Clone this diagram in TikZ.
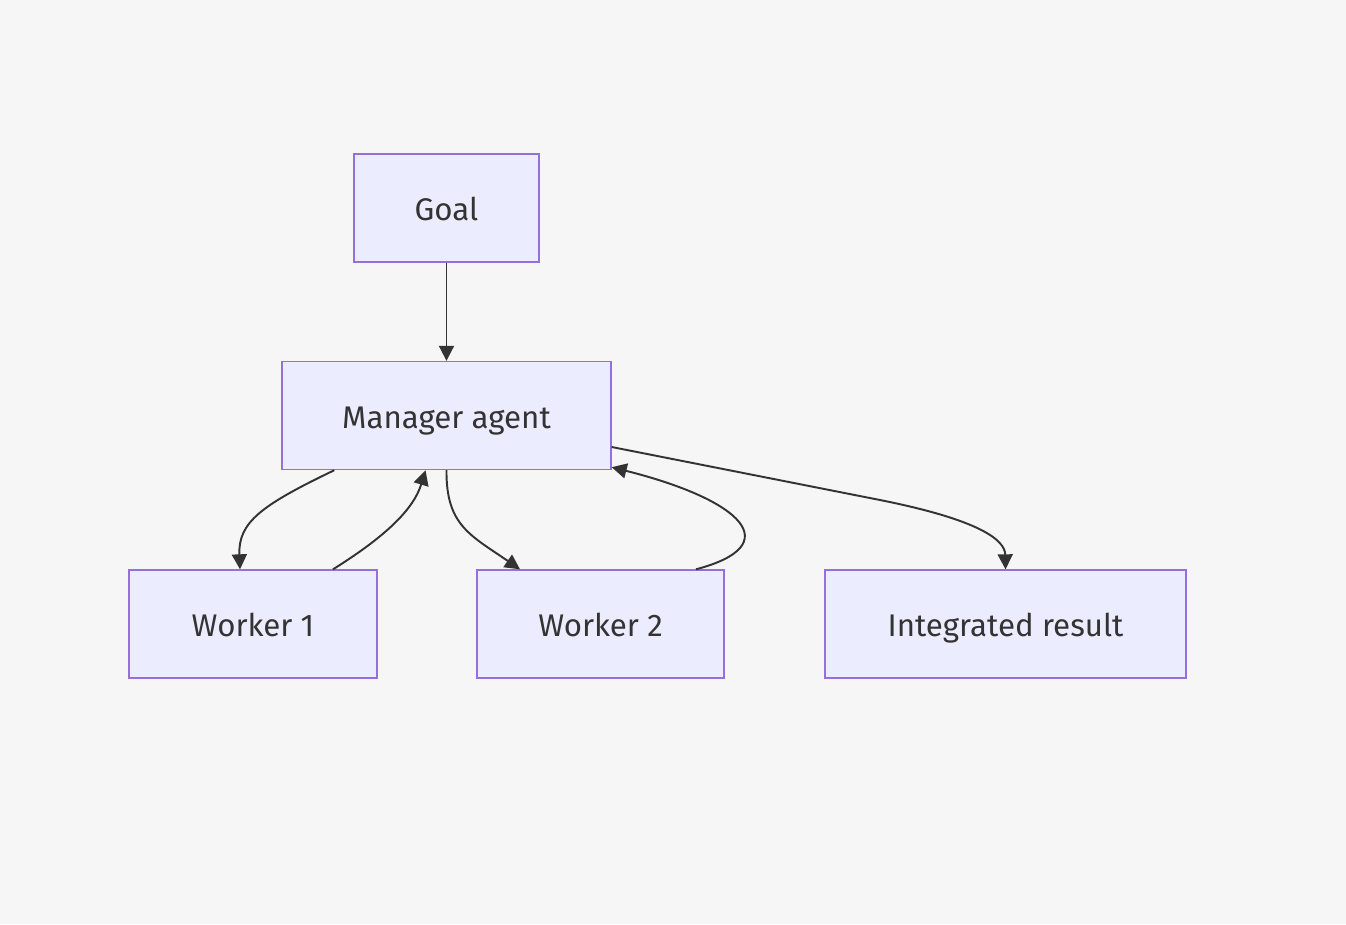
\documentclass[tikz,border=0pt]{standalone}
\usepackage{fontspec}
\setmainfont{Fira Sans}
\usetikzlibrary{arrows.meta}

\definecolor{bgcol}{HTML}{F6F6F6}
\definecolor{boxfill}{HTML}{ECECFF}
\definecolor{boxline}{HTML}{9370DB}
\definecolor{ink}{HTML}{333333}

\tikzset{
  agentbox/.style={draw=boxline, fill=boxfill, line width=0.8pt, text=ink,
    font=\fontsize{17.8}{20}\selectfont, inner sep=0pt, minimum height=2.16cm,
    text height=14.6pt, text depth=0pt},
  flow/.style={draw=ink, line width=1.1pt, -{Triangle[length=0.3cm,width=0.3cm]}}
}

\begin{document}
\begin{tikzpicture}[x=0.02cm,y=-0.02cm]
\fill[bgcol] (0,0) rectangle (1346,924);

\node[agentbox, minimum width=3.7cm] (goal) at (446.5,208) {Goal};
\node[agentbox, minimum width=6.58cm] (mgr) at (446.5,415.5) {Manager agent};
\node[agentbox, minimum width=4.96cm] (w1) at (253,624) {Worker 1};
\node[agentbox, minimum width=4.94cm] (w2) at (600.5,624) {Worker 2};
\node[agentbox, minimum width=7.22cm] (res) at (1005.5,624) {Integrated result};

\draw[flow] (goal) -- (mgr);

\draw[flow] ([xshift=1.06cm]mgr.south west) .. controls (262,505) and (238,522) .. ([xshift=-0.26cm]w1.north);
\draw[flow] ([xshift=1.6cm]w1.north) .. controls (388,535) and (414,508) .. ([xshift=-0.42cm]mgr.south);

\draw[flow] (mgr.south) .. controls (446,525) and (470,535) .. ([xshift=-1.61cm]w2.north);
\draw[flow] ([xshift=1.91cm]w2.north) .. controls (788,545) and (742,500) .. ([yshift=0.06cm]mgr.south east);

\draw[flow] ([yshift=-0.63cm]mgr.east) -- (880,500) .. controls (980,520) and (1005,540) .. (res.north);
\end{tikzpicture}
\end{document}
